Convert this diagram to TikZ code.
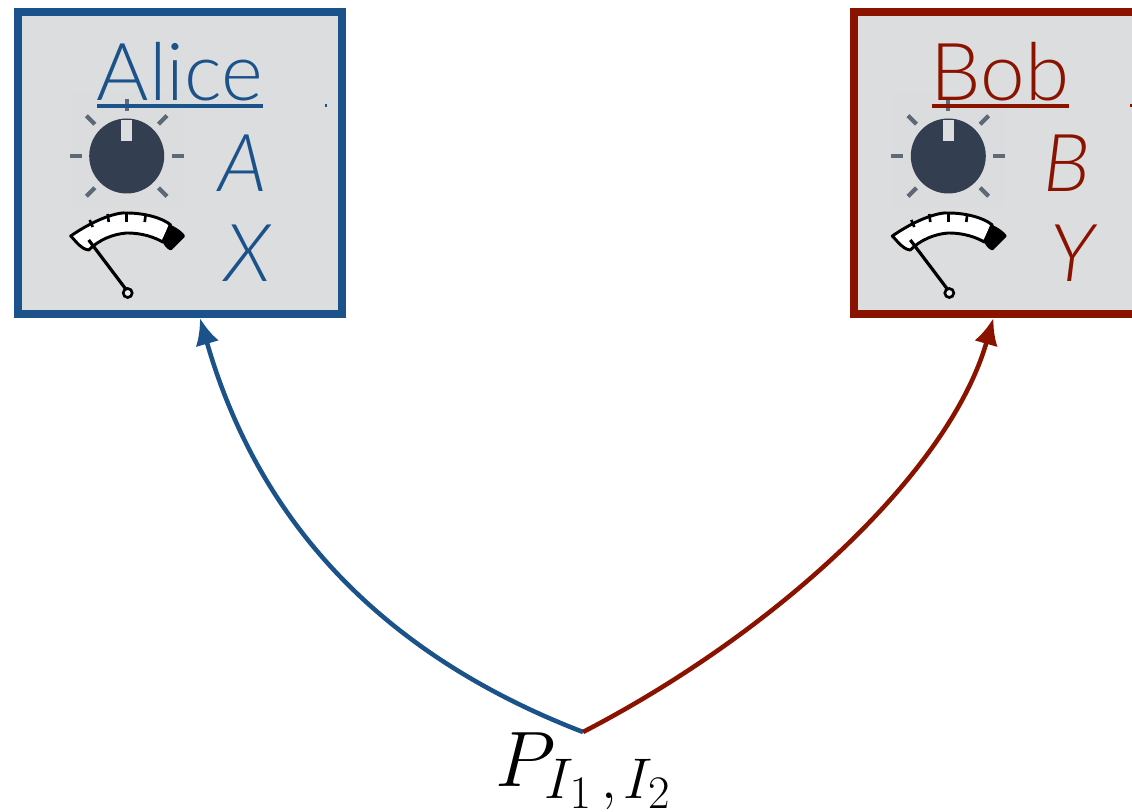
\documentclass[tikz,border=0pt]{standalone}
\usepackage{fix-cm}
\usepackage{fontspec}
\usetikzlibrary{arrows.meta,calc}
\newfontfamily\lightfont{Lato Light}
\newfontfamily\lightital{Lato Light Italic}
\DeclareMathSizes{59}{59}{43}{35}
\definecolor{aliceblue2}{HTML}{1A5289}
\definecolor{bobred}{HTML}{8A1300}
\definecolor{panelgray}{HTML}{DCDDDF}
\definecolor{knobgray}{HTML}{333F50}
\definecolor{tickgray}{HTML}{5D6977}
\tikzset{
  x=0.75pt,y=-0.75pt,
  panel/.style={draw=#1,fill=panelgray,line width=6pt,minimum width=243pt,minimum height=226.5pt,inner sep=0pt},
  title/.style={text=#1,font=\lightfont\fontsize{60}{64}\selectfont,inner sep=0pt,anchor=base},
  var/.style={text=#1,font=\lightital\fontsize{60}{64}\selectfont,inner sep=0pt,anchor=base},
  link/.style={draw=#1,line width=3.4pt,-{Latex[length=20pt,width=18pt]}},
  rulebar/.style={draw=#1,line width=2.4pt},
  knobtick/.style={draw=tickgray,line width=3.2pt},
  knob/.pic={
    \fill[panelgray!70!white!95!black] (-56,-64) rectangle (58,51);
    \foreach \a in {-90,-45,-135,0,180,45,135}{
      \draw[knobtick] ($(0,0)+(\a:45)$) -- ($(0,0)+(\a:57)$);
    }
    \fill[knobgray] (0,0) circle[radius=37.5];
    \fill[panelgray] (-5.5,-36) rectangle (5.5,-15);
  },
  gauge/.pic={
    \fill[white,draw=black,line width=2.2pt,line join=round]
      (-56,0) .. controls (-30,-18) and (-8,-24) .. (0,-23) .. controls (18,-23) and (36,-18) .. (44,-11)
      -- (36,6) .. controls (22,-2) and (8,-3) .. (0,-3) .. controls (-14,-2) and (-28,4) .. (-38,14)
      .. controls (-46,13) and (-50,6) .. (-56,0) -- cycle;
    \fill[black,line join=round,draw=black,line width=2pt] (43,-10) .. controls (50,-7) and (55,-3) .. (57,0) -- (44,13) .. controls (41,12) and (38,8) .. (37,5) -- cycle;
    \foreach \a/\b/\c/\d in {-37/-16/-34/-9,-19/-22/-18/-14,0/-24/0/-14,19/-22/18/-14}{
      \draw[black,line width=2pt] (\a,\b) -- (\c,\d);
    }
    \draw[black,line width=2.4pt] (-38,4) -- (-1,53);
    \draw[black,fill=panelgray!50!white,line width=2pt] (1,57) circle[radius=4.5];
  }
}
\begin{document}
\begin{tikzpicture}
\useasboundingbox (0,0) rectangle (1132,812);
\clip (0,0) rectangle (1132,812);
\node[panel=aliceblue2] (alice) at (180,163) {};
\node[panel=bobred] (bob) at (1016,163) {};

\pic at (126.7,156) {knob};
\pic at (948.3,156) {knob};
\pic at (126.7,236) {gauge};
\pic at (948.3,236) {gauge};
\node[title=aliceblue2] (alicename) at (180,101) {Alice};
\node[title=bobred] (bobname) at (1000,101) {Bob};
\draw[rulebar=aliceblue2] (97,106) -- (263,106);
\draw[rulebar=bobred] (932,106) -- (1069,106);
\fill[aliceblue2] (325,104.5) rectangle (327,107.5);
\fill[bobred] (1130,104.5) rectangle (1132,107.5);
\node[var=aliceblue2] (avar) at (243,192) {A};
\node[var=aliceblue2] (xvar) at (248,282) {X};
\node[var=bobred] (bvar) at (1067,192) {B};
\node[var=bobred] (yvar) at (1073,282) {Y};

\coordinate (src) at (583,732);
\node[inner sep=0pt,anchor=base west,font=\fontsize{59}{64}\selectfont] (pnode) at (495,786) {$P_{I_1\mkern3mu,\mkern2mu I_2}$};
\draw[link=aliceblue2] (src) .. controls (370,650) and (255,510) .. ($(alice.south west)!0.56!(alice.south east)$);
\draw[link=bobred] (src) .. controls (780,630) and (950,470) .. ($(bob.south west)!0.432!(bob.south east)$);
\end{tikzpicture}
\end{document}
